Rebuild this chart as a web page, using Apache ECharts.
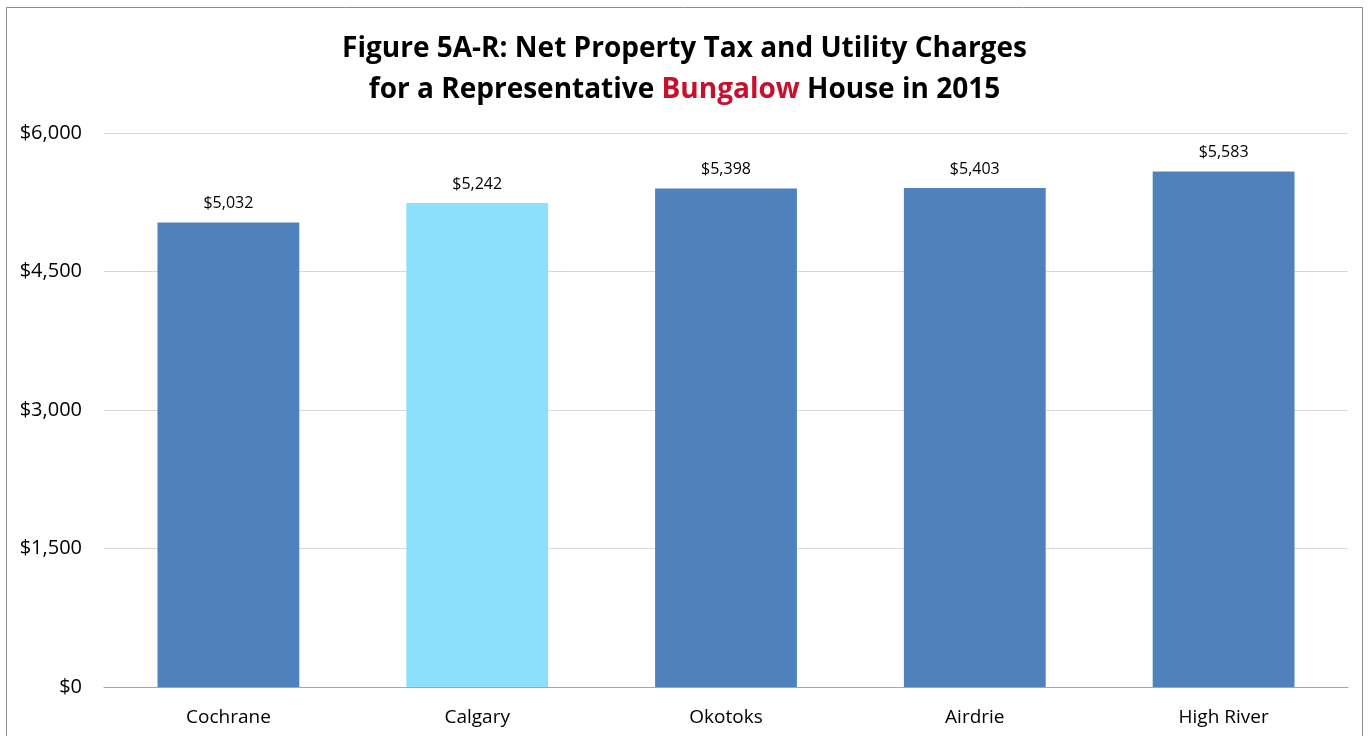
<!DOCTYPE html>
<html><head><meta charset="utf-8">
<script src="https://cdn.jsdelivr.net/npm/echarts@6/dist/echarts.min.js"></script>
<style>html,body{margin:0;padding:0;background:#fff}#c{width:1369px;height:736px}</style>
</head><body><div id="c"></div>
<script>
const categories = ['Cochrane', 'Calgary', 'Okotoks', 'Airdrie', 'High River'];
const values = [5032, 5242, 5398, 5403, 5583];
const barColors = ['#4f81bd', '#8de0fc', '#4f81bd', '#4f81bd', '#4f81bd'];
const yTicks = { min: 0, max: 6000, interval: 1500 };

const fmt = v => '$' + v.toLocaleString('en-US');
const font = '"Open Sans", "Liberation Sans", sans-serif';
const chart = echarts.init(document.getElementById('c'));
chart.setOption({
  animation: false,
  textStyle: { fontFamily: font },
  title: {
    left: 'center', top: 24,
    text: '{a|Figure 5A-R: Net Property Tax and Utility Charges}\n{a|for a Representative }{r|Bungalow}{a| House in 2015}',
    textStyle: {
      rich: {
        a: { fontSize: 28, fontWeight: 'bold', color: '#000', fontFamily: font, lineHeight: 41 },
        r: { fontSize: 28, fontWeight: 'bold', color: '#c8102e', fontFamily: font, lineHeight: 41 }
      }
    }
  },
  graphic: [{
    type: 'rect', shape: { x: 6.5, y: 7.5, width: 1356, height: 740 },
    style: { fill: 'none', stroke: '#8c8c8c', lineWidth: 1 }, silent: true, z: -1
  }],
  grid: { left: 104, right: 21, top: 133, bottom: 49 },
  xAxis: {
    type: 'category', data: categories,
    axisLine: { lineStyle: { color: '#a6a6a6', width: 1 } },
    axisTick: { show: false },
    axisLabel: { color: '#000', fontSize: 19, margin: 21, fontFamily: font }
  },
  yAxis: {
    type: 'value', min: yTicks.min, max: yTicks.max, interval: yTicks.interval,
    axisLine: { show: false }, axisTick: { show: false },
    splitLine: { lineStyle: { color: '#d9d9d9' } },
    axisLabel: { color: '#000', fontSize: 20, margin: 22, formatter: fmt, fontFamily: font }
  },
  series: [{
    type: 'bar', barWidth: '57%',
    data: values.map((v, i) => ({ value: v, itemStyle: { color: barColors[i] } })),
    label: { show: true, position: 'top', distance: 11, color: '#000', fontSize: 16, formatter: p => fmt(p.value), fontFamily: font }
  }]
});
</script></body></html>
